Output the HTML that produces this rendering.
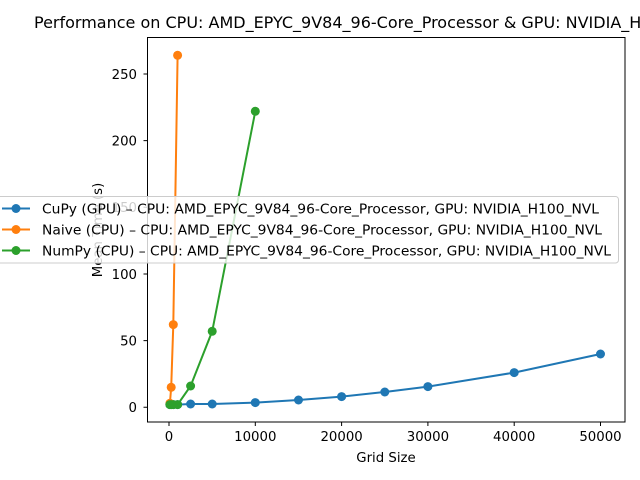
<!DOCTYPE html>
<html><head><meta charset="utf-8"><style>html,body{margin:0;padding:0;background:#fff}svg{display:block}</style></head>
<body>
<svg width="640" height="480" viewBox="0 0 640 480" xmlns="http://www.w3.org/2000/svg" font-family="DejaVu Sans, Liberation Sans, sans-serif">
<rect width="640" height="480" fill="#fff"/>
<text x="34" y="28" font-size="16" fill="#000">Performance on CPU: AMD_EPYC_9V84_96-Core_Processor &amp; GPU: NVIDIA_H100_NVL</text>
<rect x="147.5" y="37.5" width="477.5" height="384.5" fill="none" stroke="#000" stroke-width="1"/>
<g font-size="13.3" fill="#000" stroke="#000">
<g text-anchor="end" stroke="none">
<text x="137" y="412">0</text><text x="137" y="345.5">50</text><text x="137" y="278.8">100</text>
<text x="137" y="212">150</text><text x="137" y="145.5">200</text><text x="137" y="78.8">250</text>
</g>
<path d="M147.5 407.3h-4M147.5 340.6h-4M147.5 274h-4M147.5 207.3h-4M147.5 140.6h-4M147.5 74h-4"/>
<path d="M169 422v4M255.3 422v4M341.6 422v4M427.9 422v4M514.2 422v4M600.5 422v4"/>
<g text-anchor="middle" stroke="none">
<text x="169" y="441">0</text><text x="255.3" y="441">10000</text><text x="341.6" y="441">20000</text>
<text x="427.9" y="441">30000</text><text x="514.2" y="441">40000</text><text x="600.5" y="441">50000</text>
<text x="386" y="462">Grid Size</text>
<text transform="translate(102,230) rotate(-90)">Mean Time (s)</text>
</g>
</g>
<g stroke-width="2" fill="none">
<polyline stroke="#1f77b4" points="169.9,404.6 171.2,404.6 173.3,404.6 177.6,404.6 190.6,404 212.2,404 255.3,402.6 298.5,400 341.6,396.6 384.8,392 427.9,386.6 514.2,372.6 600.5,354"/>
<polyline stroke="#ff7f0e" points="169.9,403.3 171.2,387.3 173.3,324.6 177.6,55.3"/>
<polyline stroke="#2ca02c" points="169.9,404.6 171.2,404.6 173.3,404.6 177.6,404.6 190.6,386 212.2,331.3 255.3,111.3"/>
</g>
<g fill="#1f77b4"><circle cx="169.9" cy="404.6" r="4.5"/><circle cx="171.2" cy="404.6" r="4.5"/><circle cx="173.3" cy="404.6" r="4.5"/><circle cx="177.6" cy="404.6" r="4.5"/><circle cx="190.6" cy="404" r="4.5"/><circle cx="212.2" cy="404" r="4.5"/><circle cx="255.3" cy="402.6" r="4.5"/><circle cx="298.5" cy="400" r="4.5"/><circle cx="341.6" cy="396.6" r="4.5"/><circle cx="384.8" cy="392" r="4.5"/><circle cx="427.9" cy="386.6" r="4.5"/><circle cx="514.2" cy="372.6" r="4.5"/><circle cx="600.5" cy="354" r="4.5"/></g>
<g fill="#ff7f0e"><circle cx="169.9" cy="403.3" r="4.5"/><circle cx="171.2" cy="387.3" r="4.5"/><circle cx="173.3" cy="324.6" r="4.5"/><circle cx="177.6" cy="55.3" r="4.5"/></g>
<g fill="#2ca02c"><circle cx="169.9" cy="404.6" r="4.5"/><circle cx="171.2" cy="404.6" r="4.5"/><circle cx="173.3" cy="404.6" r="4.5"/><circle cx="177.6" cy="404.6" r="4.5"/><circle cx="190.6" cy="386" r="4.5"/><circle cx="212.2" cy="331.3" r="4.5"/><circle cx="255.3" cy="111.3" r="4.5"/></g>
<rect x="-3" y="196.5" width="621.5" height="66.5" rx="3" fill="#fff" fill-opacity="0.8" stroke="#ccc" stroke-width="1"/>
<g stroke-width="2"><path d="M2 208.5h28" stroke="#1f77b4"/><path d="M2 229.5h28" stroke="#ff7f0e"/><path d="M2 250.5h28" stroke="#2ca02c"/></g>
<circle cx="16" cy="208.5" r="4.5" fill="#1f77b4"/><circle cx="16" cy="229.5" r="4.5" fill="#ff7f0e"/><circle cx="16" cy="250.5" r="4.5" fill="#2ca02c"/>
<g font-size="13.3" fill="#000">
<text x="42" y="213.5" textLength="557" lengthAdjust="spacingAndGlyphs">CuPy (GPU) – CPU: AMD_EPYC_9V84_96-Core_Processor, GPU: NVIDIA_H100_NVL</text>
<text x="42" y="234.5" textLength="560" lengthAdjust="spacingAndGlyphs">Naive (CPU) – CPU: AMD_EPYC_9V84_96-Core_Processor, GPU: NVIDIA_H100_NVL</text>
<text x="42" y="255.5" textLength="569" lengthAdjust="spacingAndGlyphs">NumPy (CPU) – CPU: AMD_EPYC_9V84_96-Core_Processor, GPU: NVIDIA_H100_NVL</text>
</g>
</svg>
</body></html>
